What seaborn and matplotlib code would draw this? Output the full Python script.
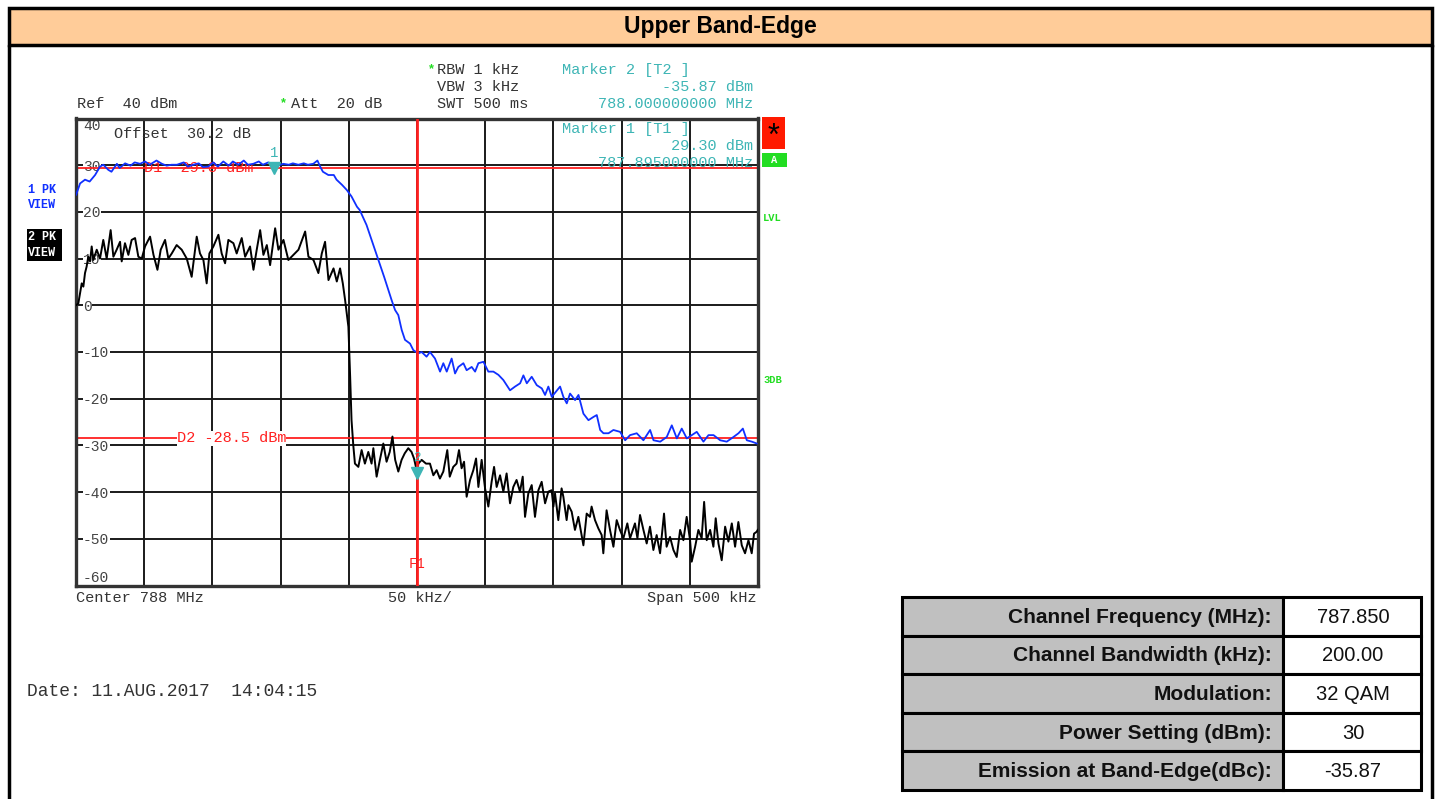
import matplotlib
matplotlib.use("Agg")
import numpy as np
import pandas as pd
import matplotlib.pyplot as plt
from matplotlib.patches import Rectangle
from matplotlib.lines import Line2D
import seaborn as sns

# trace 1 (1 PK VIEW, blue): offset from 788 MHz in kHz / level in dBm
trace1_khz = [-250, -247, -243.4, -240, -236, -232.4, -230, -226.3, -224, -220,
              -218, -214, -210, -207, -203, -199.4, -196, -191, -187, -183.5,
              -180, -176, -171, -168, -164, -160, -157, -153, -149.3, -146,
              -142, -138, -135, -131, -127, -124, -120, -116, -113, -109,
              -105, -102, -98, -94, -91, -87, -83, -80, -76, -73,
              -71, -69, -65, -61, -59, -55, -51.5, -48, -44, -42,
              -37, -30, -24, -18.6, -16.1, -13.7, -11.2, -8.8, -5.1, -2.7,
              1, 3.4, 7, 9.5, 13.2, 16.9, 19.3, 21.8, 25.4, 27.9,
              30.3, 34, 36.4, 40.1, 42.6, 45, 48.7, 52.3, 56, 59.7,
              63.3, 68.2, 71.9, 75.6, 78, 80.5, 84.1, 87.8, 91.5, 93.9,
              96.3, 98.8, 104.9, 107.3, 109.8, 112.2, 115.9, 118.4, 122, 125.7,
              129.4, 131.8, 134.3, 136.7, 140.4, 144, 148.9, 152.6, 156.2, 161.1,
              166, 170.9, 173.4, 178.3, 183.1, 186.8, 190.5, 194.1, 197.8, 201.5,
              205.1, 210, 213.7, 217.4, 222.3, 227.1, 232, 235.7, 238.9, 241.8,
              245.5, 249.2]
trace1_dbm = [23.6, 26.1, 26.9, 26.5, 27.9, 29.7, 30.1, 29.0, 28.6, 30.3,
              29.4, 30.4, 29.9, 30.6, 30.3, 30.8, 30.1, 31.0, 30.3, 29.9,
              30.1, 30.1, 30.6, 29.7, 30.1, 30.4, 29.6, 29.7, 30.6, 29.7,
              30.8, 29.9, 30.8, 30.1, 31.0, 30.1, 30.3, 30.8, 30.1, 30.6,
              30.1, 29.9, 30.3, 30.1, 30.4, 30.1, 30.4, 30.1, 30.3, 31.0,
              29.7, 28.6, 27.9, 27.9, 26.9, 25.8, 24.7, 23.3, 21.1, 20.4,
              17.2, 11.2, 6.0, 1.1, -1.0, -2.1, -5.3, -7.4, -8.2, -9.6,
              -10.3, -10.0, -11.0, -10.0, -11.4, -14.2, -12.4, -14.2, -11.4, -14.6,
              -13.2, -12.4, -13.9, -13.2, -14.2, -12.4, -12.1, -14.2, -14.2, -14.9,
              -16.0, -18.2, -17.4, -16.7, -15.0, -16.7, -15.3, -17.1, -17.8, -19.2,
              -17.4, -19.6, -17.4, -19.6, -21.0, -18.9, -20.3, -19.2, -23.2, -24.6,
              -23.9, -23.5, -26.7, -27.4, -27.4, -26.7, -27.1, -28.9, -27.8, -27.4,
              -28.9, -26.7, -28.9, -29.2, -28.2, -25.7, -28.5, -26.4, -28.5, -27.8,
              -27.1, -29.2, -27.8, -27.8, -28.9, -29.2, -28.2, -27.4, -26.4, -28.9,
              -29.2, -29.6]

# trace 2 (2 PK VIEW, black)
trace2_khz = [-250, -248.3, -245.8, -244.6, -243.4, -242.2, -241, -239.7, -238.5, -237.3,
              -234.8, -232.4, -230, -227.5, -224.6, -222.6, -220.2, -217.7, -216.5, -214.1,
              -211.6, -209.2, -206.7, -204.3, -201.8, -199.4, -195.7, -193.2, -190.3, -187.9,
              -184.7, -182.3, -179.8, -176.2, -172.5, -168.8, -165.2, -161.5, -159.1, -156.6,
              -154.2, -152.2, -149.3, -145.6, -143.2, -140.7, -138.3, -134.6, -132.2, -128.5,
              -126, -122.4, -119.9, -117.5, -115, -112.6, -110.1, -107.7, -104, -101.6,
              -97.9, -94.3, -90.6, -86.9, -82, -79.6, -75.9, -72.3, -69.8, -67.4,
              -64.9, -61.2, -58.8, -56.4, -54.4, -52.7, -50.3, -49, -48, -46.7,
              -45.5, -43, -40.6, -38.2, -35.7, -33.3, -32, -29.6, -27.2, -24.7,
              -22.3, -20, -18, -16, -13.7, -11.3, -9, -6.4, -4, -2.2,
              -0.8, 0, 1, 3.4, 6.6, 9.5, 12, 14.4, 16.8, 19.3,
              22.2, 24, 26.6, 29, 30.8, 32.7, 34.5, 36.4, 38.9, 41.3,
              43.3, 45, 47.4, 49.9, 52.3, 54.7, 56.5, 58.4, 60.9, 63.3,
              65.7, 68.2, 70.6, 73, 75.5, 77.5, 79.2, 81.6, 84.1, 86.5,
              89, 91.4, 93.9, 96.3, 98.7, 100, 101.2, 103.6, 106, 107.3,
              109.7, 111, 113.4, 115.8, 118.3, 120.7, 122, 124.4, 126.8, 128,
              130.5, 133, 135.4, 136.6, 139, 141.5, 144, 146.4, 148.8, 151.3,
              154.2, 156.2, 159.8, 161.6, 163.5, 166, 168.4, 170.8, 173.3, 175.7,
              178.2, 181.1, 183, 185.5, 188, 190.4, 192.9, 195.3, 197.7, 200.2,
              201.4, 203.9, 206.3, 208.7, 210.5, 212.4, 214.9, 217.3, 219, 221,
              223.4, 225.9, 228.3, 230.8, 233.2, 235.6, 238.1, 240.5, 243, 245.4,
              247.1, 249, 250]
trace2_dbm = [0.0, 0.4, 4.7, 4.0, 6.9, 8.3, 10.4, 9.4, 12.6, 9.7,
              11.9, 10.0, 14.0, 10.0, 16.1, 10.4, 11.9, 13.6, 9.4, 13.3,
              10.8, 14.0, 14.4, 10.4, 10.0, 12.6, 14.7, 10.8, 7.6, 11.9,
              14.0, 10.0, 11.1, 12.9, 11.9, 10.0, 6.1, 14.7, 11.1, 9.7,
              4.7, 11.1, 12.6, 15.1, 11.1, 9.0, 14.0, 13.3, 11.1, 14.4,
              10.4, 12.6, 7.6, 11.9, 16.1, 10.8, 12.9, 8.6, 16.5, 11.9,
              14.0, 9.7, 10.8, 11.9, 15.8, 10.4, 9.7, 6.9, 11.1, 13.6,
              5.4, 7.9, 5.1, 7.9, 4.7, 1.1, -4.6, -15.4, -24.6, -30.0,
              -33.9, -34.6, -31.0, -33.9, -31.4, -33.9, -30.6, -36.7, -33.1, -29.6,
              -33.5, -31.4, -28.1, -33.1, -35.6, -33.1, -31.7, -30.6, -31.4, -32.8,
              -34.6, -35.87, -33.9, -33.1, -33.9, -33.9, -36.4, -35.3, -37.1, -35.6,
              -31.0, -36.7, -34.6, -33.9, -31.0, -34.9, -33.5, -41.0, -37.4, -35.3,
              -32.8, -38.9, -33.1, -39.2, -43.1, -37.8, -34.6, -38.9, -36.4, -39.9,
              -36.0, -42.4, -38.9, -37.4, -39.9, -36.7, -45.3, -40.3, -38.5, -45.3,
              -39.6, -37.8, -42.4, -39.9, -39.6, -43.1, -40.3, -46.0, -39.2, -41.0,
              -46.0, -42.8, -44.2, -48.1, -45.3, -49.2, -51.4, -44.6, -45.3, -43.1,
              -46.0, -47.8, -49.2, -53.1, -43.9, -48.1, -51.7, -46.0, -48.1, -49.9,
              -46.7, -49.9, -46.7, -49.9, -44.9, -48.1, -51.0, -47.4, -52.4, -49.2,
              -53.1, -44.6, -51.7, -49.6, -52.4, -53.9, -48.1, -50.3, -45.3, -50.3,
              -54.9, -51.7, -48.1, -49.9, -42.1, -50.3, -48.1, -51.7, -45.6, -51.0,
              -54.6, -47.4, -50.6, -46.7, -51.7, -46.4, -51.4, -53.1, -50.3, -53.1,
              -48.9, -48.5, -48.0]

d1_level = 29.3
d2_level = -28.5
marker1 = (-105.0, 29.30)
marker2 = (0.0, -35.87)
ytick_vals = [40, 30, 20, 10, 0, -10, -20, -30, -40, -50, -60]
xtick_vals = [-250, -200, -150, -100, -50, 0, 50, 100, 150, 200, 250]

table_labels = ["Channel Frequency (MHz):", "Channel Bandwidth (kHz):", "Modulation:",
                "Power Setting (dBm):", "Emission at Band-Edge(dBc):"]
table_values = ["787.850", "200.00", "32 QAM", "30", "-35.87"]

W, H = 1439, 799
def fx(x):
    return x / W
def fy(y):
    return 1 - y / H

sns.set_style("white")
plt.rcParams["font.family"] = ["Liberation Sans", "DejaVu Sans"]
plt.rcParams["axes.unicode_minus"] = False
MONO = "Liberation Mono"
TEAL = "#3db5b5"
RED = "#ff2020"
GREEN = "#22dd22"
BLUE = "#1030ff"
GREY = "#333333"

fig = plt.figure(figsize=(W / 100, H / 100), dpi=100)
fig.patch.set_facecolor("white")

# page frame + title bar
fig.add_artist(Rectangle((fx(9), fy(45)), (1432 - 9) / W, (45 - 8) / H,
                         transform=fig.transFigure, facecolor="#ffcc99",
                         edgecolor="black", lw=2.5))
fig.add_artist(Line2D([fx(9), fx(9)], [fy(45), 0], transform=fig.transFigure, color="black", lw=2.5))
fig.add_artist(Line2D([fx(1432), fx(1432)], [fy(45), 0], transform=fig.transFigure, color="black", lw=2.5))
fig.text(fx(720), fy(27), "Upper Band-Edge", ha="center", va="center",
         fontsize=16.5, weight="bold", color="black")

# spectrum display
ax = fig.add_axes([fx(76), fy(585.5), 682 / W, 467 / H])
df1 = pd.DataFrame({"khz": trace1_khz, "dbm": trace1_dbm})
df2 = pd.DataFrame({"khz": trace2_khz, "dbm": trace2_dbm})
sns.lineplot(data=df2, x="khz", y="dbm", color="black", lw=1.4,
             estimator=None, sort=False, ax=ax, zorder=3)
sns.lineplot(data=df1, x="khz", y="dbm", color=BLUE, lw=1.3,
             estimator=None, sort=False, ax=ax, zorder=4)

ax.set_xlim(-250, 250)
ax.set_ylim(-60, 40)
ax.set_xticks(xtick_vals)
ax.set_yticks(ytick_vals)
ax.set_xticklabels([])
ax.set_xlabel("")
ax.set_ylabel("")
ax.set_axisbelow(True)
ax.grid(True, color="#1a1a1a", lw=1.4)
ax.tick_params(axis="x", length=0)
ax.tick_params(axis="y", length=0, pad=-5, labelsize=10.5, labelcolor="#444444",
               labelfontfamily=MONO)
for v, lbl in zip(ytick_vals, ax.get_yticklabels()):
    lbl.set_ha("left")
    lbl.set_bbox(dict(facecolor="white", edgecolor="none", pad=0.3))
    if v == 40:
        lbl.set_va("top")
        lbl.set_bbox(None)
    elif v == -60:
        lbl.set_va("bottom")
        lbl.set_bbox(None)
for s in ax.spines.values():
    s.set_color(GREY)
    s.set_linewidth(2.4)

# display lines, frequency line, markers
ax.axhline(d1_level, color=RED, lw=1.3, zorder=2.5)
ax.axhline(d2_level, color=RED, lw=1.3, zorder=2.5)
ax.axvline(0, color=RED, lw=2.0, zorder=5)
ax.text(-160, d1_level, "D1  29.3 dBm", ha="center", va="center", color=RED,
        family=MONO, fontsize=11, zorder=2.6)
ax.text(-136, d2_level, "D2 -28.5 dBm", ha="center", va="center", color=RED,
        family=MONO, fontsize=11, zorder=2.6,
        bbox=dict(facecolor="white", edgecolor="none", pad=0.1))
ax.text(0, -55.5, "F1", ha="center", va="center", color=RED, family=MONO,
        fontsize=10, zorder=2.6)
ax.plot(*marker1, marker="v", color=TEAL, ms=8, zorder=6)
ax.text(marker1[0], marker1[1] + 3.3, "1", ha="center", va="center",
        color=TEAL, family=MONO, fontsize=10, zorder=6)
ax.plot(*marker2, marker="v", color=TEAL, ms=8, zorder=6)
ax.text(marker2[0], marker2[1] + 3.2, "2", ha="center", va="center",
        color=TEAL, family=MONO, fontsize=9, zorder=6)
ax.text(0.055, 0.982, "Offset  30.2 dB", transform=ax.transAxes, ha="left",
        va="top", family=MONO, fontsize=11, color=GREY)

# bottom annotations of the display
ax.text(0, -0.012, "Center 788 MHz", transform=ax.transAxes, ha="left",
        va="top", family=MONO, fontsize=11, color=GREY)
ax.text(0.505, -0.012, "50 kHz/", transform=ax.transAxes, ha="center",
        va="top", family=MONO, fontsize=11, color=GREY)
ax.text(0.998, -0.012, "Span 500 kHz", transform=ax.transAxes, ha="right",
        va="top", family=MONO, fontsize=11, color=GREY)

# instrument header
hdr = dict(family=MONO, fontsize=11, color=GREY, va="center")
fig.text(fx(77), fy(104), "Ref  40 dBm", ha="left", **hdr)
fig.text(fx(291), fy(104), "Att  20 dB", ha="left", **hdr)
fig.text(fx(437), fy(70), "RBW 1 kHz", ha="left", **hdr)
fig.text(fx(437), fy(87), "VBW 3 kHz", ha="left", **hdr)
fig.text(fx(437), fy(104), "SWT 500 ms", ha="left", **hdr)
fig.text(fx(283), fy(103), "*", ha="center", va="center", color=GREEN, fontsize=9, weight="bold")
fig.text(fx(431), fy(69), "*", ha="center", va="center", color=GREEN, fontsize=9, weight="bold")
tl = dict(family=MONO, fontsize=11, color=TEAL, va="center")
fig.text(fx(562), fy(70), "Marker 2 [T2 ]", ha="left", **tl)
fig.text(fx(753), fy(87), "-35.87 dBm", ha="right", **tl)
fig.text(fx(753), fy(104), "788.000000000 MHz", ha="right", **tl)
fig.text(fx(562), fy(129), "Marker 1 [T1 ]", ha="left", zorder=0.5, **tl)
fig.text(fx(753), fy(146), "29.30 dBm", ha="right", zorder=0.5, **tl)
fig.text(fx(753), fy(163), "787.895000000 MHz", ha="right", zorder=0.5, **tl)

# trace labels on the left
fig.text(fx(28), fy(190), "1 PK", ha="left", va="center", family=MONO,
         fontsize=8.5, weight="bold", color=BLUE)
fig.text(fx(28), fy(205), "VIEW", ha="left", va="center", family=MONO,
         fontsize=8.5, weight="bold", color=BLUE)
fig.add_artist(Rectangle((fx(27), fy(261)), 35 / W, 32 / H, transform=fig.transFigure,
                         facecolor="black", edgecolor="none"))
fig.text(fx(28), fy(237), "2 PK", ha="left", va="center", family=MONO,
         fontsize=8.5, weight="bold", color="white")
fig.text(fx(28), fy(253), "VIEW", ha="left", va="center", family=MONO,
         fontsize=8.5, weight="bold", color="white")

# status boxes on the right
fig.add_artist(Rectangle((fx(762), fy(149)), 23 / W, 32 / H, transform=fig.transFigure,
                         facecolor="#ff1a00", edgecolor="none"))
fig.text(fx(773.5), fy(137), "*", ha="center", va="center", fontsize=22, color="black")
fig.add_artist(Rectangle((fx(762), fy(167)), 25 / W, 14 / H, transform=fig.transFigure,
                         facecolor="#22dd22", edgecolor="none"))
fig.text(fx(774.5), fy(160), "A", ha="center", va="center", family=MONO,
         fontsize=7.5, weight="bold", color="white")
fig.text(fx(763), fy(218), "LVL", ha="left", va="center", family=MONO,
         fontsize=7.5, weight="bold", color=GREEN)
fig.text(fx(763), fy(380), "3DB", ha="left", va="center", family=MONO,
         fontsize=7.5, weight="bold", color=GREEN)

fig.text(fx(27), fy(691), "Date: 11.AUG.2017  14:04:15", ha="left", va="center",
         family=MONO, fontsize=13, color=GREY)

# summary table
top, bottom = 597, 790
row_h = (bottom - top) / len(table_labels)
for i, (lab, val) in enumerate(zip(table_labels, table_values)):
    y0 = top + i * row_h
    fig.add_artist(Rectangle((fx(902), fy(y0 + row_h)), (1283 - 902) / W, row_h / H,
                             transform=fig.transFigure, facecolor="#c0c0c0",
                             edgecolor="black", lw=2.2))
    fig.add_artist(Rectangle((fx(1283), fy(y0 + row_h)), (1421 - 1283) / W, row_h / H,
                             transform=fig.transFigure, facecolor="white",
                             edgecolor="black", lw=2.2))
    fig.text(fx(1272), fy(y0 + row_h / 2 + 1), lab, ha="right", va="center",
             fontsize=15, weight="bold", color="#111111")
    fig.text(fx(1353), fy(y0 + row_h / 2 + 1), val, ha="center", va="center",
             fontsize=14.5, color="#111111")

fig.savefig("out.png", dpi=100, facecolor="white")
